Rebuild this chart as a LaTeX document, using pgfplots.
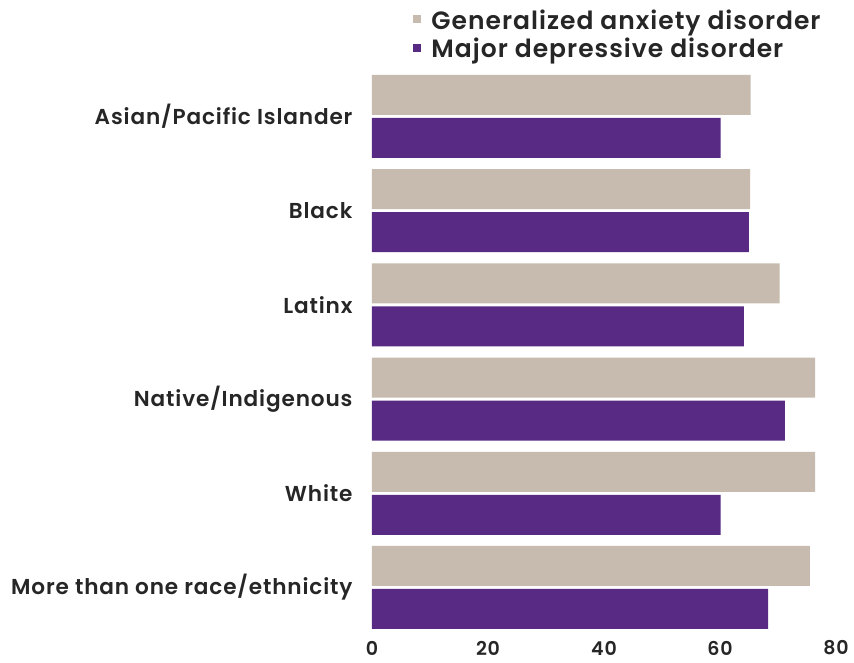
\documentclass[border=0pt]{standalone}
\usepackage{pgfplots}
\pgfplotsset{compat=1.18}
\usepackage{fontspec}
\setmainfont{Poppins}[BoldFont={* SemiBold}, LetterSpace=4]
\definecolor{gad}{HTML}{C6BBAE}
\definecolor{mdd}{HTML}{582A84}
\definecolor{txt}{HTML}{262626}
\begin{document}
\begin{tikzpicture}
\begin{axis}[
  name=ax,
  scale only axis,
  width=464pt, height=553pt,
  xbar, bar width=40pt,
  xmin=0, xmax=80,
  ymin=-0.43, ymax=5.44,
  xtick={0,20,40,60,80},
  ytick={0,1,2,3,4,5},
  yticklabels={More than one race/ethnicity,White,Native/Indigenous,Latinx,Black,Asian/Pacific Islander},
  axis line style={draw=none},
  major tick length=0pt,
  yticklabel style={font=\fontsize{21.6}{24}\selectfont\bfseries, text=txt, xshift=-16pt},
  xticklabel style={font=\fontsize{19}{22}\selectfont\bfseries, text=txt, anchor=center, yshift=-20pt},
  /pgf/number format/assume math mode=true,
  legend style={draw=none, fill=none, at={(axis description cs:0.089,1.118)}, anchor=north west,
    font=\fontsize{25}{27}\selectfont\bfseries, text=txt, row sep=2pt, inner sep=0pt,
    nodes={text height=17.5pt, text depth=5pt, inner sep=2pt},
    /tikz/every odd column/.append style={column sep=8pt}},
  legend cell align=left,
  legend image code/.code={\fill[#1,draw=none] (0pt,0pt) rectangle (8pt,8pt);},
]
\addplot[fill=gad, draw=none, bar shift=21.5pt] coordinates {
 (75.5,0) (76.4,1) (76.4,2) (70.3,3) (65.2,4) (65.3,5)};
\addlegendentry{Generalized anxiety disorder}
\addplot[fill=mdd, draw=none, bar shift=-21.5pt] coordinates {
 (68.3,0) (60.1,1) (71.2,2) (64.1,3) (65.0,4) (60.1,5)};
\addlegendentry{Major depressive disorder}
\end{axis}
\pgfresetboundingbox
\path[use as bounding box] ([shift={(-372pt,-34pt)}]ax.south west) rectangle ([shift={(482pt,628pt)}]ax.south west);
\end{tikzpicture}
\end{document}
